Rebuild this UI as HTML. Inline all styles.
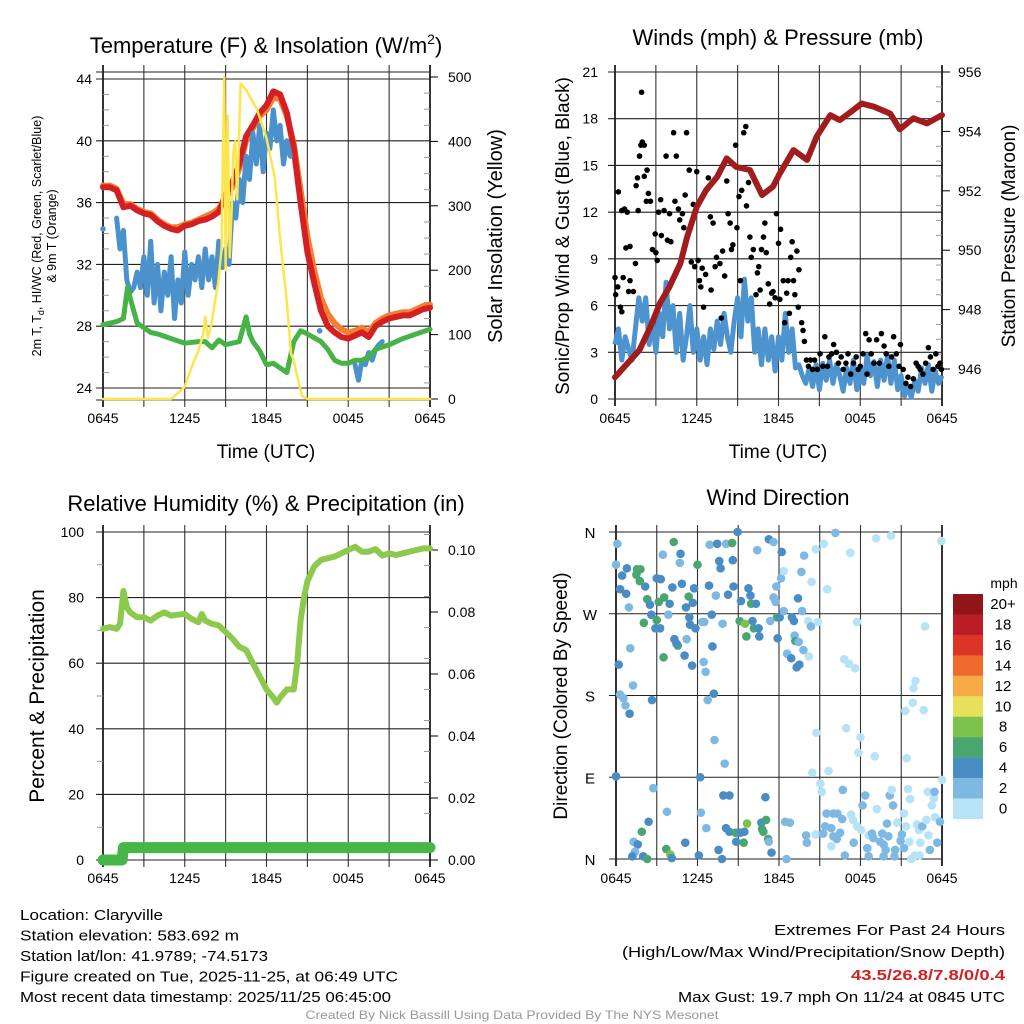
<!DOCTYPE html>
<html><head><meta charset="utf-8"><style>
html,body{margin:0;padding:0;background:#fff;}
svg{display:block;font-family:"Liberation Sans",sans-serif;}
</style></head><body>
<svg id="chart" width="1024" height="1024" viewBox="0 0 1024 1024" xmlns="http://www.w3.org/2000/svg">
<rect x="0" y="0" width="1024" height="1024" fill="#fff"/>
</svg>
<script>
// ---------- DATA ----------
// Panel 1: temperature (hours since 0645 UTC)
const tempTimes = [0,0.5,1,1.5,2,2.5,3,3.5,4,4.5,5,5.5,6,6.5,7,7.5,8,8.5,9,9.5,10,10.5,11,11.5,12,12.5,13,13.5,14,14.5,15,15.5,16,16.5,17,17.5,18,18.5,19,19.5,20,20.5,21,21.5,22,22.5,23,23.5,24];
const temp2m = [37.0,37.0,36.8,35.7,35.8,35.5,35.3,35.2,34.8,34.5,34.3,34.2,34.5,34.6,34.8,34.9,35.1,35.4,36.5,37.3,38.5,40.3,41.0,41.8,42.3,43.2,43.0,41.8,39.5,36.0,32.8,30.8,29.0,28.0,27.6,27.3,27.2,27.4,27.6,27.3,28.0,28.3,28.5,28.6,28.7,28.7,28.9,29.1,29.2];
const temp9m = [37.1,37.1,36.9,35.9,35.9,35.6,35.4,35.3,34.9,34.6,34.4,34.4,34.6,34.7,34.9,35.1,35.3,35.6,36.3,37.0,38.2,40.0,40.8,41.6,42.0,42.8,42.7,41.6,39.8,36.8,33.8,31.6,29.8,28.8,28.2,27.8,27.6,27.7,27.9,27.6,28.2,28.5,28.7,28.8,28.9,28.9,29.1,29.3,29.4];
const dewTimes = [0,1,1.5,1.8,2,2.5,3,3.5,4,5,6,7,7.5,8,8.5,9,10,10.5,10.75,11,11.5,12,12.5,13,13.5,14,14.5,15,16,16.5,17,17.5,18,18.5,19,19.5,20,21,22,23,24];
const dewValues = [28.1,28.3,28.5,30.5,29.8,28.2,27.9,27.6,27.5,27.2,26.9,27.0,27.0,26.6,27.1,26.8,27.0,28.6,27.5,27.0,26.4,25.5,25.6,25.3,25.0,27.0,27.7,27.5,27.0,26.5,25.8,25.6,25.6,25.8,25.8,26.0,26.5,26.8,27.2,27.5,27.8];
const chillTimes = [0,1,1.25,1.5,1.75,2,2.25,2.5,2.75,3,3.25,3.5,3.75,4,4.25,4.5,4.75,5,5.25,5.5,5.75,6,6.25,6.5,6.75,7,7.25,7.5,7.75,8,8.25,8.5,8.75,9,9.25,9.5,9.75,10,10.25,10.5,10.75,11,11.25,11.5,11.75,12,12.25,12.5,12.75,13,13.25,13.5,13.75,15.9,18.5,18.75,19,19.25,19.5,19.75,20,20.25,20.5];
const chillValues = [34.3,35.0,33.0,34.2,31.0,30.2,30.5,31.5,30.5,32.5,30.0,33.5,29.5,32.0,29.0,31.5,30.0,32.5,28.5,31.0,29.5,32.8,30.0,32.0,31.0,32.5,30.5,33.0,31.0,32.5,30.5,33.5,31.8,33.0,32.0,36.0,35.0,37.5,36.0,39.0,37.5,40.5,38.5,41.0,38.0,40.5,39.5,42.0,40.0,41.0,38.5,40.0,39.0,27.7,25.5,24.5,25.8,25.5,26.3,25.8,26.5,26.8,27.0];
const chillSegments = [0,1,1,1,1,1,1,1,1,1,1,1,1,1,1,1,1,1,1,1,1,1,1,1,1,1,1,1,1,1,1,1,1,1,1,1,1,1,1,1,1,1,1,1,1,1,1,1,1,1,1,1,1,2,3,3,3,3,3,3,3,3,3];
const solarTimes = [0,5.0,6.0,6.6,7.0,7.35,7.5,7.7,7.9,8.45,8.7,8.8,8.9,9.0,9.15,9.3,9.45,9.55,9.7,9.85,10.1,10.5,11.3,12.0,12.6,13.0,13.5,13.8,14.0,14.2,14.6,15.0,24];
const solarValues = [0,0,19,55,75,100,128,95,110,180,232,380,500,200,440,220,300,380,400,310,490,480,450,405,345,248,150,70,60,40,5,0,0];
// Panel 2: wind & pressure
const windTimes = Array.from({length:97},(_, i)=>i*0.25);
const windValues = [3.5,4.5,2.5,4.0,3.2,2.5,4.5,6.5,5.0,6.5,3.5,5.0,3.0,5.5,4.0,7.5,4.5,6.0,3.0,5.5,2.5,4.0,6.0,3.0,4.5,2.5,4.0,2.2,4.5,3.2,5.0,3.5,5.5,4.0,3.0,5.0,6.5,4.0,7.7,5.0,6.5,3.0,4.5,2.2,4.5,2.5,4.0,1.8,4.0,2.5,5.5,3.0,4.5,2.0,2.2,1.5,1.0,2.0,0.8,2.2,0.6,2.3,1.2,2.5,1.0,2.2,1.5,0.5,2.0,1.0,2.5,0.6,2.0,1.0,2.8,1.5,2.4,0.8,2.5,1.2,2.8,1.0,2.5,0.6,1.5,0.2,0.8,0.1,1.2,0.5,2.0,1.0,2.2,0.5,1.8,1.0,1.5];
const gustTimes = [0,0.05,0.2,0.25,0.4,0.5,0.5,0.6,0.7,0.8,0.9,1.1,1.0,1.1,1.35,1.5,1.55,1.65,1.7,1.8,1.9,1.95,2.0,2.15,2.15,2.3,2.35,2.45,2.6,2.75,2.95,3.0,3.1,3.2,3.35,3.4,3.6,3.75,3.85,4.0,4.1,4.3,4.4,4.5,4.65,4.75,4.95,5.05,5.15,5.25,5.45,5.6,5.75,5.85,6.0,6.1,6.2,6.3,6.4,6.5,6.65,6.85,7.0,7.05,7.2,7.35,7.45,7.7,7.8,7.9,8.05,8.2,8.3,8.45,8.55,8.65,8.85,8.95,9.1,9.2,9.3,9.45,9.6,9.65,9.8,9.9,10.0,10.15,10.35,10.45,10.55,10.65,10.75,10.9,11.0,11.1,11.25,11.35,11.5,11.6,11.75,11.85,12.0,12.1,12.15,12.35,12.45,12.6,12.7,12.8,12.9,13.0,13.1,13.2,13.35,13.45,13.5,13.7,13.8,13.9,14.05,14.2,14.35,14.5,14.65,14.85,15.05,15.25,15.4,15.6,15.7,15.9,16.05,16.25,16.4,16.6,16.75,16.95,17.1,17.3,17.5,17.7,17.85,18.0,18.2,18.4,18.5,18.65,18.8,19.0,19.2,19.4,19.55,19.75,19.9,20.1,20.3,20.45,20.65,20.85,20.95,21.15,21.35,21.5,21.7,21.9,22.1,22.25,22.4,22.6,22.8,23.0,23.15,23.35,23.55,23.7,23.85,23.95];
const gustValues = [7.8,6.7,7.2,13.3,5.9,5.6,12.1,7.8,12.2,9.7,12.0,9.8,6.9,7.6,6.9,8.7,13.7,14.2,12.1,15.6,16.3,19.7,16.5,16.3,14.3,12.7,14.7,13.2,12.7,9.6,10.6,9.4,8.9,12.0,12.8,10.5,12.1,15.6,10.2,11.9,10.1,17.1,12.7,15.6,12.2,11.5,11.9,11.0,13.1,17.1,14.7,8.8,12.5,8.5,14.6,8.9,7.6,7.2,8.4,5.9,8.0,14.2,11.7,7.0,11.3,8.5,9.1,8.7,5.2,9.5,7.9,14.0,11.9,11.3,9.6,9.9,16.3,11.0,13.0,7.6,13.4,17.1,17.5,12.4,13.9,10.4,9.1,9.6,6.7,8.1,8.5,7.0,9.6,10.4,11.3,9.4,7.4,6.1,6.8,6.9,6.5,11.9,10.0,6.4,10.9,7.6,4.9,6.8,7.6,5.5,9.1,10.1,7.6,6.7,9.5,5.9,8.3,4.9,4.4,3.7,2.5,2.1,2.5,1.9,2.5,1.9,2.9,2.1,4.0,2.1,2.7,2.9,3.5,3.0,2.3,2.7,1.9,2.3,2.9,1.6,2.3,2.7,1.9,2.1,2.9,4.2,1.6,3.8,2.9,2.3,3.8,2.3,4.2,3.4,2.9,2.1,2.7,4.0,2.9,2.1,3.5,1.9,1.0,1.4,0.8,1.3,2.3,2.1,1.9,1.6,2.3,3.3,2.7,1.9,2.9,2.1,2.3,1.9];
const presTimes = [0,1.8,2.6,3.3,4.0,4.8,5.3,6.0,6.7,7.5,8.2,8.9,9.9,10.8,11.6,12.1,13.1,14.1,14.8,15.8,16.5,17.5,18.1,19.0,20.2,20.9,21.9,22.9,24];
const presValues = [945.72,946.64,947.42,948.22,948.77,949.56,950.45,951.46,952.03,952.47,953.09,952.8,952.7,951.86,952.14,952.59,953.37,953.04,953.82,954.55,954.38,954.72,954.94,954.83,954.6,954.07,954.44,954.27,954.55];
// Panel 3: RH & precip
const rhTimes = [0,0.5,1,1.25,1.5,1.75,2,2.5,3,3.5,4,4.5,5,5.5,6,6.5,7,7.25,7.5,8,8.5,9,9.5,10,10.5,11,11.5,12,12.5,12.75,13,13.5,14,14.25,14.5,14.75,15,15.5,16,16.5,17,17.5,18,18.5,19,19.5,20,20.5,21,21.5,22,22.5,23,23.5,24];
const rhValues = [70.5,71,70.5,72,82,77,75.5,74,74,73,74.5,75.5,74.5,74.8,75,73.5,72.5,75,73,72,71.5,69.5,67.5,65,64,60,56,52,49.5,48,49.5,52,52,60,73,80,85,89.5,91.5,92,92.5,93.5,94.5,95.5,94,94,94.8,92.8,93.5,93,93.5,94,94.5,95,95];
const precipTimes = [0,1.4,1.5,24];
const precipValues = [0,0,0.004,0.004];
// Panel 4: wind direction (hours, degrees, speed mph)
const dirTimes = [0.1,0.0,0.8,0.45,0.3,0.75,0.95,0.2,1.05,0.3,0.55,0.7,1.0,1.25,0,1.55,1.8,1.5,1.75,2.15,2.3,2.5,2.05,2.6,2.9,3.0,3.3,3.15,3.55,3.0,3.25,3.5,3.95,3.85,4.25,4.7,3.45,4.75,4.15,4.85,4.3,4.55,4.45,5.2,5.05,5.15,5.35,5.65,5.75,5.4,5.45,5.85,6.0,5.6,6.45,6.6,7.1,7.05,6.35,6.5,2.65,6.75,7.2,7.25,8.0,6.9,7.45,7.6,7.7,6.85,7.35,8.1,8.55,8.6,8.65,8.25,7.85,8.95,9.1,9.5,9.2,9.75,9.9,9.95,10.3,10.15,9.6,10.05,10.5,10.55,10.4,11.25,11.6,12.2,11.8,12.15,11.6,11.75,11.85,12.05,11.35,11.9,12.35,12.35,12.95,13.1,13.15,13.2,13.45,13.8,12.6,12.9,13.3,13.5,14.2,13.4,13.65,13.85,14.4,13.7,14.15,14.35,14.85,14.7,15.3,16.15,17.25,15.55,17.75,16.8,17.15,17.6,14.75,16.95,18.0,17.85,19.05,14.45,15.65,15.05,15.15,16.7,21.4,19.15,20.25,23.95,22.75,22.05,21.9,21.85,21.3,22.65,24.0,2.75,3.75,6.25,6.2,7.9,8.35,11.0,8.1,8.35,8.8,9.15,9.65,9.45,9.4,8.85,10.7,11.05,10.75,10.85,11.2,11.25,11.45,6.65,2.4,1.9,1.3,1.6,1.4,1.2,2.0,2.3,3.7,4.0,4.1,5.1,6.1,7.55,7.8,12.55,12.45,12.8,14.0,14.05,14.7,15.25,15.4,15.5,16.0,16.3,16.65,15.85,16.0,16.25,16.5,15.85,16.85,17.5,17.3,17.45,17.75,18.05,18.35,18.15,19.2,18.6,18.85,18.95,19.6,19.45,19.7,20.05,19.95,18.5,18.6,19.85,19.7,20.55,20.5,21.05,20.95,21.2,20.4,20.15,20.3,20.7,21.2,21.35,21.6,21.75,21.5,21.65,22.15,22.3,22.55,22.85,22.4,23.0,23.1,23.65,23.5,23.85,23.25,23.4,22.95,23.45,22.0,22.35];
const dirDegrees = [347,324,320,312,297,292,277,214,232,181,177,169,160,191,91,319,319,313,306,300,286,280,260,269,254,309,308,283,288,263,254,222,281,269,349,326,335,336,299,303,242,235,237,242,224,277,289,282,298,266,258,254,324,213,217,206,234,269,261,261,175,175,182,131,105,346,347,328,320,301,290,347,348,329,300,291,259,360,262,259,284,298,290,281,281,254,245,262,254,245,340,352,349,338,300,309,288,283,266,266,262,243,317,273,266,262,246,240,239,230,226,221,211,214,223,287,316,334,305,273,262,256,261,341,347,359,337,297,261,220,215,210,139,144,134,117,113,95,97,83,74,76,111,353,356,350,256,196,188,172,163,164,87,78,52,51,90,70,70,68,34,30,29,29,39,30,18,19,40,43,33,30,22,19,7,34,41,30,19,16,8,3,3,0,11,5,1,18,4,10,0,0,41,40,26,18,27,28,36,50,50,50,44,34,25,22,29,14,4,18,49,43,36,32,70,59,55,26,28,23,28,19,16,25,39,12,3,10,3,10,3,27,20,12,59,70,76,40,50,36,19,0,77,66,38,32,36,43,18,26,10,18,46,41,59,67,74,74,4,4];
const dirSpeeds = [3,3,5,5,5,5,3,5,3,3,3,3,5,3,5,7,7,7,7,5,7,5,7,5,5,5,5,7,7,7,5,7,5,3,7,3,3,5,5,5,5,7,5,3,5,5,7,5,5,5,5,5,7,5,3,3,5,5,3,3,5,3,5,3,3,3,5,5,5,5,3,3,7,5,5,5,3,5,7,9,5,5,5,7,5,7,7,5,5,5,3,5,3,5,3,3,3,3,7,5,3,5,1,3,5,5,3,7,3,3,3,5,5,5,1,5,3,3,1,3,1,3,1,1,1,3,1,1,1,1,1,1,1,1,1,1,1,1,1,1,1,3,1,1,1,1,1,1,1,1,1,1,1,3,3,3,5,5,5,5,5,5,7,5,9,5,7,5,5,7,7,7,7,3,5,3,5,7,3,5,3,5,5,7,7,9,5,5,5,5,5,3,3,3,3,3,1,3,3,3,3,3,3,3,3,3,3,1,3,3,1,1,1,1,3,3,1,1,3,3,3,3,3,3,3,3,3,3,3,3,3,3,3,3,3,3,1,1,1,1,1,1,1,1,1,1,3,1,1,1,3,3,1,3,1,1,1,3,1,1,1];
const speedBinLabels = ["20+","18","16","14","12","10","8","6","4","2","0"];
const speedBinColors = ["#8f1519","#bb1d26","#dc3427","#ee6a2d","#f6aa48","#e7e05b","#7cc24b","#4aa66f","#4a8cc4","#7db9e3","#b7e3f7"];
const timeTickLabels = ["0645","1245","1845","0045","0645"];
const timeTickHours = [0,6,12,18,24];

// ---------- HELPERS ----------
const NS = "http://www.w3.org/2000/svg";
const svg = document.getElementById('chart');
function mk(tag, attrs, parent){
  const e = document.createElementNS(NS, tag);
  for (const k in attrs) e.setAttribute(k, attrs[k]);
  (parent || svg).appendChild(e);
  return e;
}
function txt(str, x, y, size, anchor, parent, extra){
  const a = Object.assign({x:x, y:y, 'font-size':size, 'text-anchor':anchor||'middle', fill:'#000'}, extra||{});
  const t = mk('text', a, parent);
  t.textContent = str;
  return t;
}
function scaler(d0, d1, r0, r1){ return v => r0 + (v - d0) * (r1 - r0) / (d1 - d0); }
function pathFrom(ts, vs, xf, yf, segs){
  let d = '', prev = null;
  for (let i = 0; i < ts.length; i++){
    if (vs[i] === null) { prev = null; continue; }
    const seg = segs ? segs[i] : 0;
    d += (prev === null || prev !== seg ? 'M' : 'L') + xf(ts[i]).toFixed(1) + ',' + yf(vs[i]).toFixed(1) + ' ';
    prev = seg;
  }
  return d;
}

function frame(g, X0, X1, Y0, Y1, hLines, xf, tickY, name){
  // vertical grid lines every 3h
  for (let h = 0; h <= 24; h += 3){
    const l = mk('line', {x1:xf(h), x2:xf(h), y1:Y0-7, y2:Y1+7, stroke:(h===0||h===24)?'#000':'#333', 'stroke-width':(h===0||h===24)?1.6:1.1}, g);
    
    
  }
  hLines.forEach(y => {
    const l = mk('line', {x1:X0-7, x2:X1, y1:y, y2:y, stroke:'#222', 'stroke-width':1.1}, g);
    
    
  });
  timeTickHours.forEach((h, i) => {
    const t = txt(timeTickLabels[i], xf(h), tickY, 14, 'middle', g);
    
    
  });
}

// ---------- PANEL 1 ----------
(function(){
  const g = mk('g', {});
  
  
  const xf = scaler(0, 24, 103, 430);
  const yL = scaler(24, 44, 388, 79);
  const yR = scaler(0, 500, 399, 77);
  const hl = [72, 400];
  [24,28,32,36,40,44].forEach(v => hl.push(yL(v)));
  frame(g, 103, 430, 72, 400, hl, xf, 423, 'p1');
  for (let v = 25; v < 44; v++) if (v % 4) { const m = mk('line', {x1:103, x2:109, y1:yL(v), y2:yL(v), stroke:'#999', 'stroke-width':1}, g);   }
  for (let v = 25; v < 500; v += 25) if (v % 100) { const m = mk('line', {x1:424, x2:430, y1:yR(v), y2:yR(v), stroke:'#999', 'stroke-width':1}, g);   }
  [0,100,200,300,400,500].forEach(v => { const m = mk('line', {x1:430, x2:438, y1:yR(v), y2:yR(v), stroke:'#000', 'stroke-width':1}, g);  
    const t = txt(String(v), 448, yR(v)+5, 14, 'start', g);   });
  [24,28,32,36,40,44].forEach(v => { const t = txt(String(v), 92, yL(v)+5, 14, 'end', g);   });
  const line = (ts, vs, col, w, nm, yf, segs) => { const p = mk('path', {d:pathFrom(ts, vs, xf, yf, segs), fill:'none', stroke:col, 'stroke-width':w, 'stroke-linejoin':'round', 'stroke-linecap':'round'}, g);   return p; };
  line(tempTimes, temp9m, '#f47f2f', 6, 'temp-9m-line', yL);
  line(tempTimes, temp2m, '#d42023', 6, 'temp-2m-line', yL);
  line(chillTimes, chillValues, '#4b91cb', 5, 'heat-index-wind-chill-line', yL, chillSegments);
  const c0 = mk('circle', {cx:xf(chillTimes[0]), cy:yL(chillValues[0]), r:2.8, fill:'#4b91cb'}, g);  
  const c1 = mk('circle', {cx:xf(15.9), cy:yL(27.7), r:2.8, fill:'#4b91cb'}, g);  
  line(dewTimes, dewValues, '#46b346', 5, 'dewpoint-line', yL);
  line(solarTimes, solarValues, '#fde64c', 2.5, 'solar-insolation-line', yR);
  const t1 = mk('text', {x:266, y:53, 'font-size':22, 'text-anchor':'middle'}, g);
   
  t1.innerHTML = 'Temperature (F) &amp; Insolation (W/m<tspan font-size="14" dy="-9">2</tspan><tspan dy="9">)</tspan>';
  const xt = txt('Time (UTC)', 266, 458, 19, 'middle', g);  
  const yt = mk('text', {transform:'translate(41,236) rotate(-90)', 'font-size':12.5, 'text-anchor':'middle'}, g);
   
  yt.innerHTML = '2m T, T<tspan font-size="9" dy="3">d</tspan><tspan dy="-3">, HI/WC (Red, Green, Scarlet/Blue)</tspan>';
  const yt2 = txt('& 9m T (Orange)', 0, 0, 12.5, 'middle', g, {transform:'translate(56,236) rotate(-90)'});  
  const rt = txt('Solar Insolation (Yellow)', 0, 0, 20, 'middle', g, {transform:'translate(502,236) rotate(-90)'});  
})();

// ---------- PANEL 2 ----------
(function(){
  const g = mk('g', {});
  
  
  const xf = scaler(0, 24, 615, 942);
  const yL = scaler(0, 21, 399, 72);
  const yR = scaler(946, 956, 369, 72);
  const hl = [];
  for (let v = 0; v <= 21; v += 3) hl.push(yL(v));
  frame(g, 615, 942, 72, 399, hl, xf, 423, 'p2');
  for (let v = 0; v <= 21; v += 3){ const t = txt(String(v), 598, yL(v)+5, 14, 'end', g);   }
  for (let p = 945.5; p < 956; p += 0.5) if (p % 2) { const m = mk('line', {x1:936, x2:942, y1:yR(p), y2:yR(p), stroke:'#999', 'stroke-width':1}, g);   }
  for (let p = 946; p <= 956; p += 2){ const m = mk('line', {x1:942, x2:950, y1:yR(p), y2:yR(p), stroke:'#000'}, g);  
    const t = txt(String(p), 958, yR(p)+5, 14, 'start', g);   }
  const wl = mk('path', {d:pathFrom(windTimes, windValues, xf, yL), fill:'none', stroke:'#4d93cf', 'stroke-width':5, 'stroke-linejoin':'round'}, g);
   
  gustTimes.forEach((h, i) => {
    const c = mk('circle', {cx:xf(h), cy:yL(gustValues[i]), r:2.8, fill:'#000'}, g);
    
    
  });
  const pl = mk('path', {d:pathFrom(presTimes, presValues, xf, yR), fill:'none', stroke:'#a11d1d', 'stroke-width':6, 'stroke-linejoin':'round', 'stroke-linecap':'round'}, g);
   
  const t = txt('Winds (mph) & Pressure (mb)', 778, 45, 22, 'middle', g);  
  const xt = txt('Time (UTC)', 778, 458, 19, 'middle', g);  
  const yt = txt('Sonic/Prop Wind & Gust (Blue, Black)', 0, 0, 19, 'middle', g, {transform:'translate(569,236) rotate(-90)'});  
  const rt = txt('Station Pressure (Maroon)', 0, 0, 19, 'middle', g, {transform:'translate(1015,236) rotate(-90)'});  
})();

// ---------- PANEL 3 ----------
(function(){
  const g = mk('g', {});
  
  
  const xf = scaler(0, 24, 103, 430);
  const yL = scaler(0, 100, 860, 532);
  const yR = scaler(0, 0.1, 860, 550);
  const hl = [];
  for (let v = 0; v <= 100; v += 20) hl.push(yL(v));
  frame(g, 103, 430, 532, 860, hl, xf, 883, 'p3');
  for (let v = 10; v < 100; v += 20){ const m = mk('line', {x1:97, x2:103, y1:yL(v), y2:yL(v), stroke:'#999'}, g);   }
  for (let v = 0; v <= 100; v += 20){ const t = txt(String(v), 84, yL(v)+5, 14, 'end', g);   }
  for (let v = 0.005; v < 0.105; v += 0.01){ const m = mk('line', {x1:424, x2:430, y1:yR(v), y2:yR(v), stroke:'#999'}, g);   }
  for (let i = 0; i <= 5; i++){ const v = i*0.02; const m = mk('line', {x1:430, x2:438, y1:yR(v), y2:yR(v), stroke:'#000'}, g);  
    const t = txt(v.toFixed(2), 448, yR(v)+5, 14, 'start', g);   }
  const rl = mk('path', {d:pathFrom(rhTimes, rhValues, xf, yL), fill:'none', stroke:'#8dc94c', 'stroke-width':6, 'stroke-linejoin':'round', 'stroke-linecap':'round'}, g);
   
  const pr = mk('path', {d:pathFrom(precipTimes, precipValues, xf, yR), fill:'none', stroke:'#47b548', 'stroke-width':11, 'stroke-linejoin':'round', 'stroke-linecap':'round'}, g);
   
  const t = txt('Relative Humidity (%) & Precipitation (in)', 266, 511, 22, 'middle', g);  
  const yt = txt('Percent & Precipitation', 0, 0, 21, 'middle', g, {transform:'translate(44,696) rotate(-90)'});  
})();

// ---------- PANEL 4 ----------
(function(){
  const g = mk('g', {});
  
  
  const xf = scaler(0, 24, 616, 942);
  const yf = scaler(0, 360, 859, 532);
  const dirLabels = ["N","E","S","W","N"];
  const hl = [];
  for (let i = 0; i <= 4; i++) hl.push(yf(i*90));
  frame(g, 616, 942, 532, 859, hl, xf, 883, 'p4');
  dirLabels.forEach((s, i) => { const t = txt(s, 590, yf(i*90)+6, 15, 'middle', g);   });
  dirTimes.forEach((h, i) => {
    const bin = Math.min(10, Math.floor(dirSpeeds[i] / 2));
    const c = mk('circle', {cx:xf(h), cy:yf(dirDegrees[i]), r:4.3, fill:speedBinColors[10 - bin]}, g);
    
    
  });
  const t = txt('Wind Direction', 778, 505, 22, 'middle', g);  
  const yt = txt('Direction (Colored By Speed)', 0, 0, 19, 'middle', g, {transform:'translate(567,696) rotate(-90)'});  
  const lg = mk('g', {}, g);
  
  
  const mph = txt('mph', 1004, 588, 14, 'middle', lg);  
  speedBinLabels.forEach((s, i) => {
    const r = mk('rect', {x:953, y:594 + i*20.45, width:30, height:20.6, fill:speedBinColors[i]}, lg);
    
    
    const l = txt(s, 1003, 594 + i*20.45 + 15, 15, 'middle', lg);
    
    
  });
})();

// ---------- FOOTER ----------
(function(){
  const g = mk('g', {});
  
  
  const left = [["Location: Claryville",143],["Station elevation: 583.692 m",219],["Station lat/lon: 41.9789; -74.5173",248],["Figure created on Tue, 2025-11-25, at 06:49 UTC",378],["Most recent data timestamp: 2025/11/25 06:45:00",371]];
  left.forEach((l, i) => { const t = txt(l[0], 20, 920 + i*20.5, 15, 'start', g, {textLength:l[1], lengthAdjust:'spacingAndGlyphs'});   });
  const right = [["Extremes For Past 24 Hours",231,935,'#000','normal'],["(High/Low/Max Wind/Precipitation/Snow Depth)",383,957,'#000','normal'],["43.5/26.8/7.8/0/0.4",154,980,'#d42023','bold'],["Max Gust: 19.7 mph On 11/24 at 0845 UTC",327,1002,'#000','normal']];
  right.forEach(l => { const t = txt(l[0], 1005, l[2], 15, 'end', g, {textLength:l[1], lengthAdjust:'spacingAndGlyphs', fill:l[3], 'font-weight':l[4]});   });
  const c = txt('Created By Nick Bassill Using Data Provided By The NYS Mesonet', 512, 1019, 12, 'middle', g, {fill:'#999', textLength:413, lengthAdjust:'spacingAndGlyphs'});
   
})();
</script>
</body></html>
